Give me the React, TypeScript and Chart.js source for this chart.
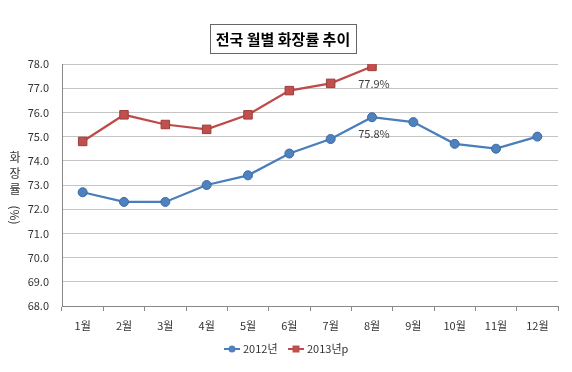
import React, { useEffect, useRef } from "react";
import { Chart, registerables } from "chart.js";

Chart.register(...registerables);

const months = ["1월", "2월", "3월", "4월", "5월", "6월", "7월", "8월", "9월", "10월", "11월", "12월"];
const series2012 = [72.7, 72.3, 72.3, 73.0, 73.4, 74.3, 74.9, 75.8, 75.6, 74.7, 74.5, 75.0];
const series2013 = [74.8, 75.9, 75.5, 75.3, 75.9, 76.9, 77.2, 77.9];
const seriesNames = ["2012년", "2013년p"];
const chartTitle = "전국 월별 화장률 추이";
const yMin = 68;
const yMax = 78;
const FONT = "'Noto Sans CJK KR', 'Noto Sans', sans-serif";

const BLUE = "#4a7ebb";
const BLUE_FILL = "#4f81bd";
const RED = "#be4b48";
const RED_FILL = "#c0504d";

const decorPlugin = {
  id: "decor",
  afterDraw(chart: any) {
    const ctx = chart.ctx;
    ctx.save();
    // Title box
    ctx.font = `bold 15px ${FONT}`;
    ctx.fillStyle = "#000";
    ctx.textAlign = "center";
    ctx.textBaseline = "middle";
    const tx = 283;
    const ty = 39;
    ctx.fillText(chartTitle, tx, ty);
    ctx.strokeStyle = "#666";
    ctx.lineWidth = 1;
    ctx.strokeRect(210.5, 24.5, 146, 29);

    // Y axis title (vertical text)
    ctx.font = `12px ${FONT}`;
    ctx.fillStyle = "#333";
    const cx = 15;
    ["화", "장", "률"].forEach((c, i) => {
      ctx.fillText(c, cx, 157 + i * 16);
    });
    ctx.save();
    ctx.translate(cx, 215);
    ctx.rotate(Math.PI / 2);
    ctx.fillText("(%)", 0, 0);
    ctx.restore();

    // Data labels at last 2013 point and 8월 2012
    const xs = chart.scales.x;
    const ys = chart.scales.y;
    ctx.font = `11px ${FONT}`;
    ctx.fillStyle = "#404040";
    const i13 = series2013.length - 1;
    ctx.fillText(series2013[i13].toFixed(1) + "%", xs.getPixelForValue(i13) + 2, ys.getPixelForValue(series2013[i13]) + 17);
    const i12 = 7;
    ctx.fillText(series2012[i12].toFixed(1) + "%", xs.getPixelForValue(i12) + 2, ys.getPixelForValue(series2012[i12]) + 17);

    // Legend
    const ly = 349;
    const items = [
      { name: seriesNames[0], line: BLUE, fill: BLUE_FILL, shape: "circle", x: 224 },
      { name: seriesNames[1], line: RED, fill: RED_FILL, shape: "rect", x: 288 },
    ];
    ctx.textAlign = "left";
    items.forEach((it) => {
      ctx.strokeStyle = it.line;
      ctx.lineWidth = 2;
      ctx.beginPath();
      ctx.moveTo(it.x, ly);
      ctx.lineTo(it.x + 16, ly);
      ctx.stroke();
      ctx.fillStyle = it.fill;
      ctx.beginPath();
      if (it.shape === "circle") ctx.arc(it.x + 8, ly, 3.5, 0, Math.PI * 2);
      else ctx.rect(it.x + 4.5, ly - 3.5, 7, 7);
      ctx.fill();
      ctx.fillStyle = "#333";
      ctx.fillText(it.name, it.x + 19, ly);
    });
    ctx.restore();
  },
};

export default function App() {
  const ref = useRef<HTMLCanvasElement>(null);
  useEffect(() => {
    document.body.style.margin = "0";
    const chart = new Chart(ref.current!, {
      type: "line",
      data: {
        labels: months,
        datasets: [
          {
            label: seriesNames[0],
            data: series2012,
            borderColor: BLUE,
            backgroundColor: BLUE_FILL,
            pointBackgroundColor: BLUE_FILL,
            pointBorderColor: "#3a6aa8",
            pointBorderWidth: 1,
            borderWidth: 2.25,
            pointRadius: 4.5,
            pointStyle: "circle",
            tension: 0,
          },
          {
            label: seriesNames[1],
            data: series2013,
            borderColor: RED,
            backgroundColor: RED_FILL,
            pointBackgroundColor: RED_FILL,
            pointBorderColor: "#a03c39",
            pointBorderWidth: 1,
            borderWidth: 2.25,
            pointRadius: 6,
            pointStyle: "rect",
            tension: 0,
          },
        ],
      },
      options: {
        responsive: false,
        animation: false,
        layout: { padding: { top: 64, right: 14, left: 0, bottom: 0 } },
        plugins: {
          legend: { display: false },
          title: { display: false },
          tooltip: { enabled: false },
        },
        scales: {
          x: {
            offset: true,
            grid: {
              offset: true,
              drawOnChartArea: false,
              drawTicks: true,
              tickLength: 5,
              color: "#888",
            },
            border: { color: "#888", width: 1 },
            ticks: { color: "#333", font: { family: FONT, size: 11 }, padding: 8, maxRotation: 0, autoSkip: false },
            afterFit: (scale: any) => {
              scale.height = 66;
            },
          },
          y: {
            min: yMin,
            max: yMax,
            grid: { color: "#c4c4c4", drawTicks: false },
            border: { color: "#888", width: 1 },
            ticks: {
              stepSize: 1,
              color: "#333",
              padding: 13,
              font: { family: FONT, size: 11 },
              callback: (v: any) => Number(v).toFixed(1),
            },
            afterFit: (scale: any) => {
              scale.width = 62;
            },
          },
        },
      },
      plugins: [decorPlugin],
    });
    return () => chart.destroy();
  }, []);
  return (
    <div style={{ position: "fixed", left: 0, top: 0, width: 572, height: 372, background: "#fff" }}>
      <canvas ref={ref} width={572} height={372} />
    </div>
  );
}
